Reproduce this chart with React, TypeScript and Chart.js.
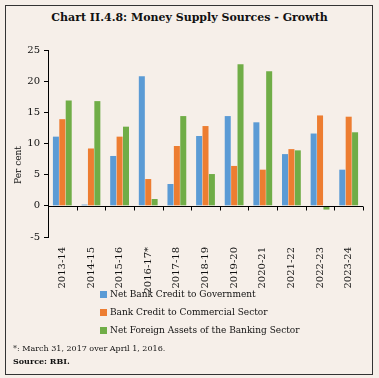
import React, { useEffect, useRef } from "react";
import { Chart, registerables } from "chart.js";

Chart.register(...registerables);

const categories = ["2013-14", "2014-15", "2015-16", "2016-17*", "2017-18", "2018-19", "2019-20", "2020-21", "2021-22", "2022-23", "2023-24"];
const netBankCreditGov = [11.1, 0.2, 8.0, 20.8, 3.5, 11.2, 14.4, 13.4, 8.3, 11.6, 5.8];
const bankCreditCommercial = [13.9, 9.2, 11.1, 4.3, 9.6, 12.8, 6.4, 5.8, 9.1, 14.5, 14.3];
const netForeignAssets = [16.9, 16.8, 12.7, 1.1, 14.4, 5.1, 22.7, 21.6, 8.9, -0.6, 11.8];
const seriesNames = ["Net Bank Credit to Government", "Bank Credit to Commercial Sector", "Net Foreign Assets of the Banking Sector"];
const seriesColors = ["#5b9bd5", "#ed7d31", "#70ad47"];
const yMin = -5;
const yMax = 25;
const yStep = 5;

const SERIF = "'DejaVu Serif', 'Liberation Serif', serif";

const zeroLinePlugin = {
  id: "zeroLine",
  afterDatasetsDraw(chart: any) {
    const { ctx, chartArea, scales } = chart;
    const y0 = Math.round(scales.y.getPixelForValue(0)) + 0.5;
    ctx.save();
    ctx.strokeStyle = "#000";
    ctx.lineWidth = 1;
    ctx.beginPath();
    ctx.moveTo(chartArea.left, y0);
    ctx.lineTo(chartArea.right, y0);
    const n = categories.length;
    const w = (chartArea.right - chartArea.left) / n;
    for (let i = 1; i <= n; i++) {
      const x = Math.round(chartArea.left + i * w) + 0.5;
      ctx.moveTo(x, y0);
      ctx.lineTo(x, y0 + 4);
    }
    ctx.stroke();
    ctx.restore();
  },
};

export default function App() {
  const ref = useRef<HTMLCanvasElement>(null);
  useEffect(() => {
    if (!ref.current) return;
    const data = [netBankCreditGov, bankCreditCommercial, netForeignAssets];
    const chart = new Chart(ref.current, {
      type: "bar",
      data: {
        labels: categories,
        datasets: data.map((d, i) => ({
          label: seriesNames[i],
          data: d,
          backgroundColor: seriesColors[i],
          borderWidth: 0,
          categoryPercentage: 0.67,
          barPercentage: 0.94,
        })),
      },
      plugins: [zeroLinePlugin],
      options: {
        responsive: false,
        animation: false,
        layout: { padding: { top: 50, left: 0, right: 16, bottom: 0 } },
        plugins: { legend: { display: false }, tooltip: { enabled: false }, title: { display: false } },
        scales: {
          x: {
            grid: { display: false },
            border: { display: false },
            ticks: {
              color: "#111",
              font: { family: SERIF, size: 10 },
              minRotation: 90,
              maxRotation: 90,
              autoSkip: false,
              padding: 2,
            },
            afterFit(scale: any) {
              scale.height = 141;
            },
          },
          y: {
            min: yMin,
            max: yMax,
            ticks: { stepSize: yStep, color: "#111", font: { family: SERIF, size: 10 }, padding: 4 },
            grid: { drawOnChartArea: false, drawTicks: true, tickLength: 4, color: "#000" },
            border: { display: true, color: "#000", width: 1 },
            afterFit(scale: any) {
              scale.width = 48;
            },
          },
        },
      },
    });
    return () => chart.destroy();
  }, []);

  return (
    <div style={{ position: "absolute", left: 0, top: 0, width: 379, height: 378, background: "#f6efe9", fontFamily: SERIF, color: "#111", overflow: "hidden" }}>
      <div style={{ position: "absolute", left: 5, top: 5, width: 368, height: 370, border: "1.5px solid #333", boxSizing: "border-box" }} />
      <div style={{ position: "absolute", left: 0, top: 11, width: 379, textAlign: "center", fontWeight: "bold", fontSize: 11 }}>
        Chart II.4.8: Money Supply Sources - Growth
      </div>
      <canvas ref={ref} width={379} height={378} style={{ position: "absolute", left: 0, top: 0 }} />
      <div style={{ position: "absolute", left: 18 - 30, top: 160, width: 60, textAlign: "center", fontSize: 9, transform: "rotate(-90deg)", transformOrigin: "50% 50%" }}>
        Per cent
      </div>
      {seriesNames.map((name, i) => (
        <div key={name} style={{ position: "absolute", left: 100, top: 289 + i * 18, fontSize: 9, display: "flex", alignItems: "center", whiteSpace: "nowrap" }}>
          <span style={{ display: "inline-block", width: 7, height: 7, background: seriesColors[i], marginRight: 3 }} />
          {name}
        </div>
      ))}
      <div style={{ position: "absolute", left: 13, top: 344, fontSize: 8 }}>*: March 31, 2017 over April 1, 2016.</div>
      <div style={{ position: "absolute", left: 13, top: 356, fontSize: 8, fontWeight: "bold" }}>Source: RBI.</div>
    </div>
  );
}
